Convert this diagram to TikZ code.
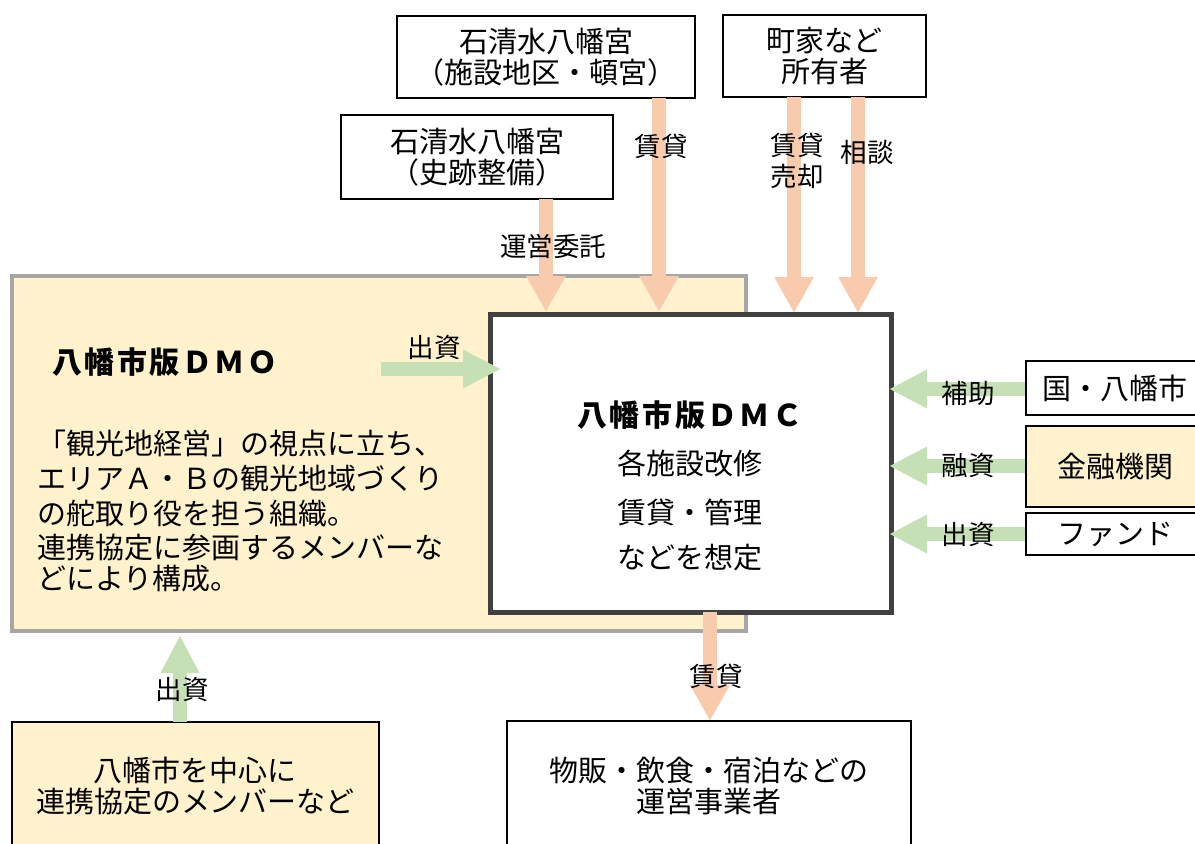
\documentclass[tikz,border=0pt]{standalone}
\usepackage{fontspec}
\setmainfont{Noto Sans CJK JP}
\usetikzlibrary{arrows.meta}
\definecolor{oarr}{HTML}{F8CBAD}
\definecolor{garr}{HTML}{C5E0B4}
\definecolor{ybox}{HTML}{FFF2CC}
\definecolor{gborder}{HTML}{A6A6A6}
\definecolor{dborder}{HTML}{404040}
\newcommand{\tsp}{\hspace{2.5pt}}
\begin{document}
\begin{tikzpicture}[x=1pt,y=-1pt,
  box/.style={draw=black, line width=1.2pt, fill=white, inner sep=0pt, align=center, font=\fontsize{29}{31}\selectfont},
  ybx/.style={box, fill=ybox},
  lbl/.style={font=\fontsize{26.5}{31}\selectfont, inner sep=0pt, align=center},
  txt/.style={font=\fontsize{29}{34}\selectfont, inner sep=0pt},
  ttl/.style={font=\fontsize{30}{34}\selectfont\bfseries, inner sep=0pt},
  oblock/.style={draw=oarr, line width=14pt, -{Triangle[width=37pt,length=36pt]}},
  gblock/.style={draw=garr, line width=14pt, -{Triangle[width=36pt,length=38pt]}}]
\useasboundingbox (0,0) rectangle (1195,844);
\fill[white] (0,0) rectangle (1195,844);

% main boxes
\node[draw=gborder, line width=3.5pt, fill=ybox, minimum width=734pt, minimum height=355pt, inner sep=0pt] (dmo) at (379,453.5) {};
\node[draw=dborder, line width=5pt, fill=white, minimum width=401pt, minimum height=298pt, inner sep=0pt] (dmc) at (690.5,463) {};

% top boxes
\node[box, minimum width=298pt, minimum height=82pt] (iwa1) at (546,57) {石清水八幡宮\\（施設地区・頓宮）};
\node[box, minimum width=203pt, minimum height=82pt] (machi) at (824.5,56) {町家など\\所有者};
\node[box, minimum width=272pt, minimum height=84pt] (iwa2) at (477,157) {石清水八幡宮\\（史跡整備）};

% right boxes
\node[box, minimum width=178pt, minimum height=54pt] (kuni) at (1115,388) {国・八幡市};
\node[ybx, minimum width=178pt, minimum height=81pt] (kinyu) at (1115,466.5) {金融機関};
\node[box, minimum width=178pt, minimum height=42pt] (fund) at (1115,534) {ファンド};

% bottom boxes
\node[ybx, minimum width=367pt, minimum height=128pt] (member) at (195.5,786) {八幡市を中心に\\連携協定のメンバーなど};
\node[box, minimum width=404pt, minimum height=130pt] (jigyo) at (709,786) {物販・飲食・宿泊などの\\運営事業者};

% DMO text
\node[ttl, anchor=west] (dmot) at (52,362) {八\tsp 幡\tsp 市\tsp 版\tsp Ｄ\tsp Ｍ\tsp Ｏ};
\node[txt, anchor=base west] (d1) at (37,454) {「観光地経営」の視点に立ち、};
\node[txt, anchor=base west] (d2) at (37,489) {エリアＡ・Ｂの観光地域づくり};
\node[txt, anchor=base west] (d3) at (37,524) {の舵取り役を担う組織。};
\node[txt, anchor=base west] (d4) at (37,558) {連携協定に参画するメンバーな};
\node[txt, anchor=base west] (d5) at (37,589) {どにより構成。};

% DMC text
\node[ttl] (dmct) at (690,415) {八\tsp 幡\tsp 市\tsp 版\tsp Ｄ\tsp Ｍ\tsp Ｃ};
\node[txt] (c1) at (690,463) {各施設改修};
\node[txt] (c2) at (690,512) {賃貸・管理};
\node[txt] (c3) at (690,558) {などを想定};

% coordinates for arrows
\coordinate (a1s) at (546,199); \coordinate (a1e) at (546,312);
\coordinate (a2s) at (659,98);  \coordinate (a2e) at (659,312);
\coordinate (a3s) at (794,97);  \coordinate (a3e) at (794,313);
\coordinate (a4s) at (858,97);  \coordinate (a4e) at (858,313);
\coordinate (a5s) at (710,612); \coordinate (a5e) at (710,721);
\coordinate (g1s) at (381,369); \coordinate (g1e) at (501,369);
\coordinate (g2e) at (889,389);
\coordinate (g3e) at (889,466);
\coordinate (g4e) at (889,534);
\coordinate (g5s) at (180,722); \coordinate (g5e) at (180,635);

% orange arrows
\draw[oblock] (a1s) -- (a1e);
\draw[oblock] (a2s) -- (a2e);
\draw[oblock] (a3s) -- (a3e);
\draw[oblock] (a4s) -- (a4e);
\draw[oblock] (a5s) -- (a5e);

% green arrows
\draw[gblock] (g1s) -- (g1e);
\draw[gblock] (kuni.west |- g2e) -- (g2e);
\draw[gblock] (kinyu.west |- g3e) -- (g3e);
\draw[gblock] (fund.west |- g4e) -- (g4e);
\draw[gblock] (g5s) -- (g5e);

% labels
\node[lbl] (l1) at (553,246) {運営委託};
\node[lbl] (l2) at (661,146) {賃貸};
\node[lbl] (l3) at (797,161) {賃貸\\売却};
\node[lbl] (l4) at (867,152) {相談};
\node[lbl] (l5) at (434,347) {出資};
\node[lbl] (l6) at (968,393) {補助};
\node[lbl] (l7) at (968,465) {融資};
\node[lbl] (l8) at (968,534) {出資};
\node[lbl] (l9) at (182,689) {出資};
\node[lbl] (l10) at (716,676) {賃貸};
\end{tikzpicture}
\end{document}
